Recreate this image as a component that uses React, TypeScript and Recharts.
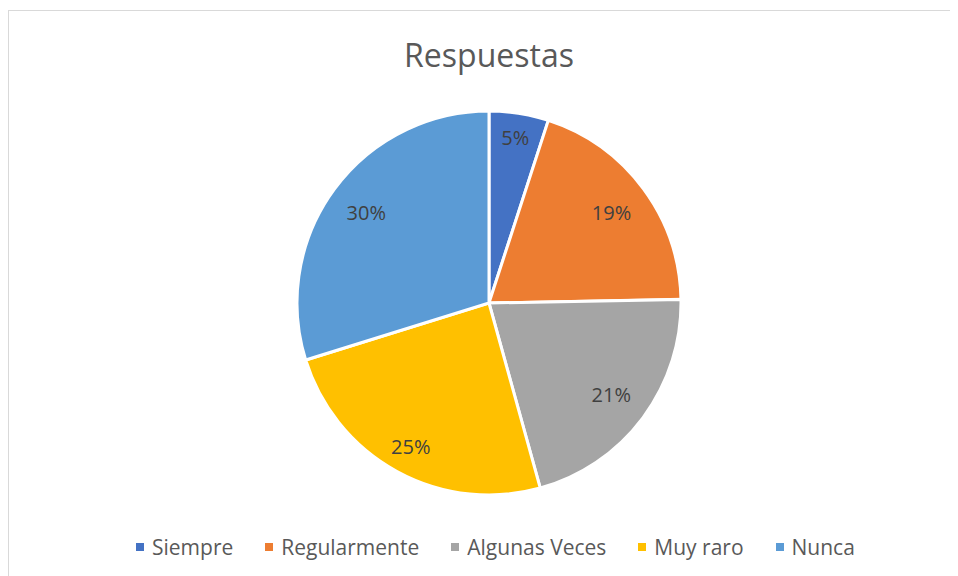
import { PieChart, Pie, Cell } from 'recharts'

const categories = ['Siempre', 'Regularmente', 'Algunas Veces', 'Muy raro', 'Nunca']
const shares = [5.0, 19.7, 21.0, 24.5, 29.8]
// percentage labels as printed on the chart
const shareLabels = ['5%', '19%', '21%', '25%', '30%']
const colors = ['#4472C4', '#ED7D31', '#A5A5A5', '#FFC000', '#5B9BD5']

const data = categories.map((name, i) => ({ name, value: shares[i], label: shareLabels[i] }))

const RAD = Math.PI / 180
const FONT = '"Open Sans", "Noto Sans", sans-serif'

function renderLabel(props: any) {
  const { cx, cy, midAngle, outerRadius, payload } = props
  // labels sit further out near the top/bottom, closer in at the sides
  const r = outerRadius * (0.675 + 0.2 * Math.abs(Math.sin(midAngle * RAD)))
  const x = cx + r * Math.cos(-midAngle * RAD)
  const y = cy + r * Math.sin(-midAngle * RAD)
  return (
    <text x={x} y={y} fill="#404040" fontSize={20} fontFamily={FONT} textAnchor="middle" dominantBaseline="central">
      {payload.label}
    </text>
  )
}

export default function App() {
  return (
    <div
      style={{
        position: 'relative',
        width: 960,
        height: 580,
        marginTop: 2,
        border: '1px solid #d9d9d9',
        background: '#fff',
        fontFamily: FONT,
      }}
    >
      <style>{'html, body { overflow: hidden; }'}</style>
      <div
        style={{
          position: 'absolute',
          top: 22,
          left: 10,
          width: 940,
          textAlign: 'center',
          fontSize: 32,
          color: '#595959',
        }}
      >
        Respuestas
      </div>
      <PieChart width={960} height={580}>
        <Pie
          data={data}
          dataKey="value"
          nameKey="name"
          cx={475}
          cy={287}
          outerRadius={192}
          startAngle={90}
          endAngle={-270}
          stroke="#fff"
          strokeWidth={3}
          label={renderLabel}
          labelLine={false}
          isAnimationActive={false}
        >
          {data.map((d, i) => (
            <Cell key={d.name} fill={colors[i]} />
          ))}
        </Pie>
      </PieChart>
      <div
        style={{
          position: 'absolute',
          top: 522,
          left: 127,
          display: 'flex',
          gap: 32,
          fontSize: 21,
          color: '#595959',
          whiteSpace: 'nowrap',
        }}
      >
        {categories.map((c, i) => (
          <div key={c} style={{ display: 'flex', alignItems: 'center' }}>
            <span style={{ display: 'inline-block', width: 8, height: 8, background: colors[i], marginRight: 8 }} />
            <span>{c}</span>
          </div>
        ))}
      </div>
    </div>
  )
}
